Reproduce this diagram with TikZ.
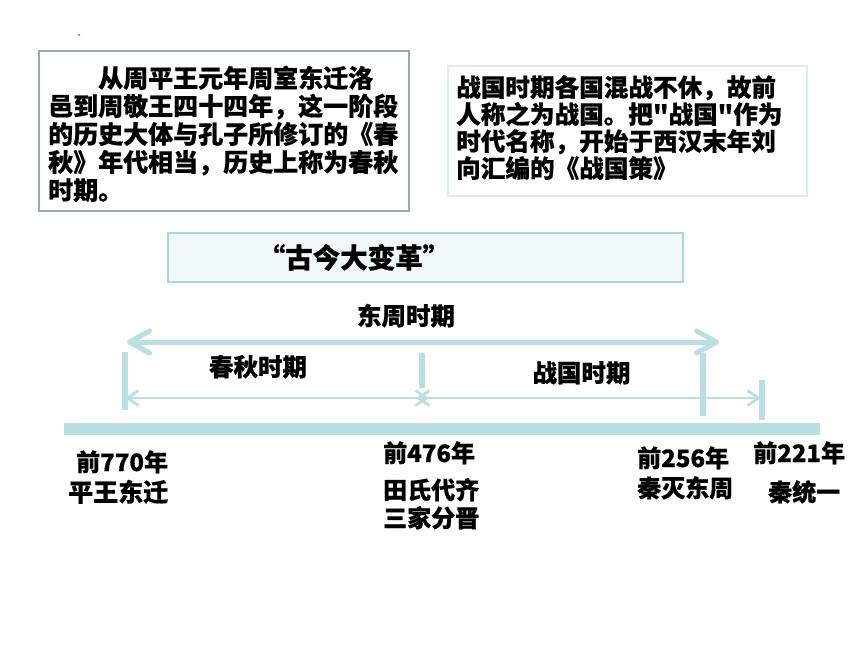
\documentclass[tikz,border=0pt]{standalone}
\usepackage{fontspec}
\newfontfamily\cjk{Noto Sans CJK SC}[BoldFeatures={FakeBold=0.6}]
\usetikzlibrary{arrows.meta}
\definecolor{tealA}{RGB}{185,223,227}
\definecolor{boxfill}{RGB}{240,248,248}
\definecolor{boxedge}{RGB}{168,215,221}
\definecolor{grayedge}{RGB}{150,170,180}
\definecolor{lightedge}{RGB}{218,237,241}
\definecolor{dotcol}{RGB}{140,140,120}
\tikzset{
  lbl/.style={inner sep=0pt, anchor=base west, font=\cjk\bfseries\fontsize{24}{28}\selectfont},
  lblc/.style={lbl, anchor=base},
  frame/.style={inner sep=0pt, anchor=north west},
  bigline/.style={draw=tealA, line width=5pt, line cap=round,
    {Straight Barb[length=20pt,width=22pt,round]}-{Straight Barb[length=20pt,width=22pt,round]}},
  thinline/.style={draw=tealA, line width=2.8pt,
    {Straight Barb[length=11pt,width=15pt]}-{Straight Barb[length=11pt,width=15pt]}},
  tickmark/.style={draw=tealA, line width=5.5pt},
  barline/.style={draw=tealA, line width=12pt},
}
\begin{document}
\begin{tikzpicture}[x=1pt,y=-1pt]
\useasboundingbox (0,0) rectangle (860,645);
\fill[white] (0,0) rectangle (860,645);

% small dot
\node[circle, fill=dotcol, inner sep=0pt, minimum size=2.5pt] (dot) at (79,35) {};

% text boxes
\node[frame, draw=grayedge, line width=1.5pt, minimum width=370pt, minimum height=160pt] (box1) at (38,50) {};
\node[lbl, font=\cjk\bfseries\fontsize{25}{28}\selectfont] (t1) at (48,87.5) {\vtop{\baselineskip=28pt
  \hbox{\hskip 50pt 从周平王元年周室东迁洛}
  \hbox{邑到周敬王四十四年，这一阶段}
  \hbox{的历史大体与孔子所修订的《春}
  \hbox{秋》年代相当，历史上称为春秋}
  \hbox{时期。}}};

\node[frame, draw=lightedge, line width=1.5pt, minimum width=359pt, minimum height=130pt] (box2) at (447,65) {};
\node[lbl, font=\cjk\bfseries\fontsize{24.6}{27}\selectfont] (t2) at (456,96.5) {\vtop{\baselineskip=27pt
  \hbox{战国时期各国混战不休，故前}
  \hbox{人称之为战国。把"战国"作为}
  \hbox{时代名称，开始于西汉末年刘}
  \hbox{向汇编的《战国策》}}};

\node[frame, draw=boxedge, fill=boxfill, line width=2pt, minimum width=515pt, minimum height=49pt] (box3) at (167,232) {};
\node[lblc, font=\cjk\bfseries\fontsize{27.5}{30}\selectfont] (t3) at (354,268) {“古今大变革”};

% coordinates
\coordinate (bl) at (64,429);
\coordinate (br) at (820,429);
\coordinate (al) at (127,342);
\coordinate (ar) at (719,342);
\coordinate (k1t) at (125,352);  \coordinate (k1b) at (125,410);
\coordinate (k2t) at (422,353);  \coordinate (k2b) at (422,388);
\coordinate (k3t) at (703,353);  \coordinate (k3b) at (703,416);
\coordinate (k4t) at (762,380);  \coordinate (k4b) at (762,420);
\coordinate (c1l) at (125,398);  \coordinate (c1r) at (429,398);
\coordinate (c2l) at (416,398);  \coordinate (c2r) at (761,398);

% main timeline bar
\draw[barline] (bl) -- (br);

% arrows and ticks
\draw[bigline] (al) -- (ar);
\draw[tickmark] (k1t) -- (k1b);
\draw[tickmark] (k2t) -- (k2b);
\draw[tickmark] (k3t) -- (k3b);
\draw[tickmark] (k4t) -- (k4b);
\draw[thinline] (c1l) -- (c1r);
\draw[thinline] (c2l) -- (c2r);

% period labels
\node[lblc, font=\cjk\bfseries\fontsize{24.5}{28}\selectfont] (dz) at (406,325) {东周时期};
\node[lblc, font=\cjk\bfseries\fontsize{24.5}{28}\selectfont] (cq) at (258,376) {春秋时期};
\node[lblc, font=\cjk\bfseries\fontsize{24.5}{28}\selectfont] (zg) at (581.5,382) {战国时期};

% date labels
\node[lbl] (d1) at (76,471) {前770年};
\node[lbl, font=\cjk\bfseries\fontsize{25}{28}\selectfont] (e1) at (68,501.5) {平王东迁};
\node[lbl] (d2) at (383,462) {前476年};
\node[lbl] (e2) at (383,499) {田氏代齐};
\node[lbl] (e3) at (383,527) {三家分晋};
\node[lbl] (d3) at (637,467) {前256年};
\node[lbl] (e4) at (637,497) {秦灭东周};
\node[lbl] (d4) at (753,462) {前221年};
\node[lbl] (e5) at (768,501) {秦统一};
\end{tikzpicture}
\end{document}
